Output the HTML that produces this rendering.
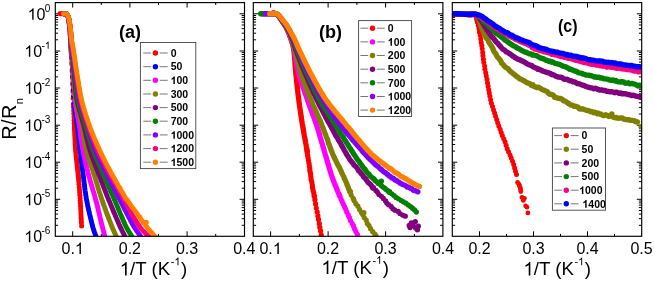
<!DOCTYPE html>
<html><head><meta charset="utf-8"><title>R/Rn vs 1/T</title>
<style>html,body{margin:0;padding:0;background:#fff;}svg{display:block;will-change:transform;}body{font-family:"Liberation Sans",sans-serif;}</style>
</head><body>
<svg width="654" height="281" viewBox="0 0 654 281" font-family="Liberation Sans, sans-serif">
<rect width="654" height="281" fill="#fff"/>
<defs>
<clipPath id="cpa"><rect x="55.3" y="2.6" width="189.2" height="233.7"/></clipPath>
<clipPath id="cpb"><rect x="253.3" y="2.6" width="189.6" height="233.7"/></clipPath>
<clipPath id="cpc"><rect x="452.3" y="2.6" width="189.4" height="233.7"/></clipPath>
</defs>
<path d="M72.7 2.6v5M72.7 236.3v-5M101.3 2.6v2.4M101.3 236.3v-2.4M129.9 2.6v5M129.9 236.3v-5M158.5 2.6v2.4M158.5 236.3v-2.4M187.1 2.6v5M187.1 236.3v-5M215.7 2.6v2.4M215.7 236.3v-2.4M55.3 13.8h4.9M244.5 13.8h-4.9M55.3 51h4.9M244.5 51h-4.9M55.3 39.8h2.8M244.5 39.8h-2.8M55.3 33.2h2.8M244.5 33.2h-2.8M55.3 28.6h2.8M244.5 28.6h-2.8M55.3 25h2.8M244.5 25h-2.8M55.3 22.1h2.8M244.5 22.1h-2.8M55.3 19.6h2.8M244.5 19.6h-2.8M55.3 17.4h2.8M244.5 17.4h-2.8M55.3 15.5h2.8M244.5 15.5h-2.8M55.3 88h4.9M244.5 88h-4.9M55.3 76.9h2.8M244.5 76.9h-2.8M55.3 70.3h2.8M244.5 70.3h-2.8M55.3 65.7h2.8M244.5 65.7h-2.8M55.3 62.1h2.8M244.5 62.1h-2.8M55.3 59.2h2.8M244.5 59.2h-2.8M55.3 56.7h2.8M244.5 56.7h-2.8M55.3 54.5h2.8M244.5 54.5h-2.8M55.3 52.6h2.8M244.5 52.6h-2.8M55.3 125.2h4.9M244.5 125.2h-4.9M55.3 114h2.8M244.5 114h-2.8M55.3 107.4h2.8M244.5 107.4h-2.8M55.3 102.8h2.8M244.5 102.8h-2.8M55.3 99.2h2.8M244.5 99.2h-2.8M55.3 96.3h2.8M244.5 96.3h-2.8M55.3 93.8h2.8M244.5 93.8h-2.8M55.3 91.6h2.8M244.5 91.6h-2.8M55.3 89.7h2.8M244.5 89.7h-2.8M55.3 162.2h4.9M244.5 162.2h-4.9M55.3 151.1h2.8M244.5 151.1h-2.8M55.3 144.5h2.8M244.5 144.5h-2.8M55.3 139.9h2.8M244.5 139.9h-2.8M55.3 136.3h2.8M244.5 136.3h-2.8M55.3 133.4h2.8M244.5 133.4h-2.8M55.3 130.9h2.8M244.5 130.9h-2.8M55.3 128.7h2.8M244.5 128.7h-2.8M55.3 126.8h2.8M244.5 126.8h-2.8M55.3 199.3h4.9M244.5 199.3h-4.9M55.3 188.2h2.8M244.5 188.2h-2.8M55.3 181.6h2.8M244.5 181.6h-2.8M55.3 177h2.8M244.5 177h-2.8M55.3 173.4h2.8M244.5 173.4h-2.8M55.3 170.5h2.8M244.5 170.5h-2.8M55.3 168h2.8M244.5 168h-2.8M55.3 165.8h2.8M244.5 165.8h-2.8M55.3 163.9h2.8M244.5 163.9h-2.8M55.3 225.3h2.8M244.5 225.3h-2.8M55.3 218.7h2.8M244.5 218.7h-2.8M55.3 214.1h2.8M244.5 214.1h-2.8M55.3 210.5h2.8M244.5 210.5h-2.8M55.3 207.6h2.8M244.5 207.6h-2.8M55.3 205.1h2.8M244.5 205.1h-2.8M55.3 202.9h2.8M244.5 202.9h-2.8M55.3 201h2.8M244.5 201h-2.8" stroke="#000" stroke-width="1" fill="none"/>
<text x="61.58" y="254.1" font-size="16">0.</text>
<path transform="translate(74.92,254.1) scale(0.00781,-0.00781)" d="M763 0H583V1147Q518 1085 412.5 1023Q307 961 223 930V1104Q374 1175 487 1276Q600 1377 647 1472H763Z"/>
<text x="118.78" y="254.1" font-size="16">0.2</text>
<text x="175.98" y="254.1" font-size="16">0.3</text>
<text x="233.18" y="254.1" font-size="16">0.4</text>
<path d="M270.6 2.6v5M270.6 236.3v-5M299.4 2.6v2.4M299.4 236.3v-2.4M328.1 2.6v5M328.1 236.3v-5M356.9 2.6v2.4M356.9 236.3v-2.4M385.6 2.6v5M385.6 236.3v-5M414.4 2.6v2.4M414.4 236.3v-2.4M253.3 13.8h4.9M442.9 13.8h-4.9M253.3 51h4.9M442.9 51h-4.9M253.3 39.8h2.8M442.9 39.8h-2.8M253.3 33.2h2.8M442.9 33.2h-2.8M253.3 28.6h2.8M442.9 28.6h-2.8M253.3 25h2.8M442.9 25h-2.8M253.3 22.1h2.8M442.9 22.1h-2.8M253.3 19.6h2.8M442.9 19.6h-2.8M253.3 17.4h2.8M442.9 17.4h-2.8M253.3 15.5h2.8M442.9 15.5h-2.8M253.3 88h4.9M442.9 88h-4.9M253.3 76.9h2.8M442.9 76.9h-2.8M253.3 70.3h2.8M442.9 70.3h-2.8M253.3 65.7h2.8M442.9 65.7h-2.8M253.3 62.1h2.8M442.9 62.1h-2.8M253.3 59.2h2.8M442.9 59.2h-2.8M253.3 56.7h2.8M442.9 56.7h-2.8M253.3 54.5h2.8M442.9 54.5h-2.8M253.3 52.6h2.8M442.9 52.6h-2.8M253.3 125.2h4.9M442.9 125.2h-4.9M253.3 114h2.8M442.9 114h-2.8M253.3 107.4h2.8M442.9 107.4h-2.8M253.3 102.8h2.8M442.9 102.8h-2.8M253.3 99.2h2.8M442.9 99.2h-2.8M253.3 96.3h2.8M442.9 96.3h-2.8M253.3 93.8h2.8M442.9 93.8h-2.8M253.3 91.6h2.8M442.9 91.6h-2.8M253.3 89.7h2.8M442.9 89.7h-2.8M253.3 162.2h4.9M442.9 162.2h-4.9M253.3 151.1h2.8M442.9 151.1h-2.8M253.3 144.5h2.8M442.9 144.5h-2.8M253.3 139.9h2.8M442.9 139.9h-2.8M253.3 136.3h2.8M442.9 136.3h-2.8M253.3 133.4h2.8M442.9 133.4h-2.8M253.3 130.9h2.8M442.9 130.9h-2.8M253.3 128.7h2.8M442.9 128.7h-2.8M253.3 126.8h2.8M442.9 126.8h-2.8M253.3 199.3h4.9M442.9 199.3h-4.9M253.3 188.2h2.8M442.9 188.2h-2.8M253.3 181.6h2.8M442.9 181.6h-2.8M253.3 177h2.8M442.9 177h-2.8M253.3 173.4h2.8M442.9 173.4h-2.8M253.3 170.5h2.8M442.9 170.5h-2.8M253.3 168h2.8M442.9 168h-2.8M253.3 165.8h2.8M442.9 165.8h-2.8M253.3 163.9h2.8M442.9 163.9h-2.8M253.3 225.3h2.8M442.9 225.3h-2.8M253.3 218.7h2.8M442.9 218.7h-2.8M253.3 214.1h2.8M442.9 214.1h-2.8M253.3 210.5h2.8M442.9 210.5h-2.8M253.3 207.6h2.8M442.9 207.6h-2.8M253.3 205.1h2.8M442.9 205.1h-2.8M253.3 202.9h2.8M442.9 202.9h-2.8M253.3 201h2.8M442.9 201h-2.8" stroke="#000" stroke-width="1" fill="none"/>
<text x="259.48" y="254.1" font-size="16">0.</text>
<path transform="translate(272.82,254.1) scale(0.00781,-0.00781)" d="M763 0H583V1147Q518 1085 412.5 1023Q307 961 223 930V1104Q374 1175 487 1276Q600 1377 647 1472H763Z"/>
<text x="316.98" y="254.1" font-size="16">0.2</text>
<text x="374.48" y="254.1" font-size="16">0.3</text>
<text x="431.98" y="254.1" font-size="16">0.4</text>
<path d="M479.5 2.6v5M479.5 236.3v-5M506.5 2.6v2.4M506.5 236.3v-2.4M533.5 2.6v5M533.5 236.3v-5M560.5 2.6v2.4M560.5 236.3v-2.4M587.5 2.6v5M587.5 236.3v-5M614.5 2.6v2.4M614.5 236.3v-2.4M452.3 13.8h4.9M641.7 13.8h-4.9M452.3 51h4.9M641.7 51h-4.9M452.3 39.8h2.8M641.7 39.8h-2.8M452.3 33.2h2.8M641.7 33.2h-2.8M452.3 28.6h2.8M641.7 28.6h-2.8M452.3 25h2.8M641.7 25h-2.8M452.3 22.1h2.8M641.7 22.1h-2.8M452.3 19.6h2.8M641.7 19.6h-2.8M452.3 17.4h2.8M641.7 17.4h-2.8M452.3 15.5h2.8M641.7 15.5h-2.8M452.3 88h4.9M641.7 88h-4.9M452.3 76.9h2.8M641.7 76.9h-2.8M452.3 70.3h2.8M641.7 70.3h-2.8M452.3 65.7h2.8M641.7 65.7h-2.8M452.3 62.1h2.8M641.7 62.1h-2.8M452.3 59.2h2.8M641.7 59.2h-2.8M452.3 56.7h2.8M641.7 56.7h-2.8M452.3 54.5h2.8M641.7 54.5h-2.8M452.3 52.6h2.8M641.7 52.6h-2.8M452.3 125.2h4.9M641.7 125.2h-4.9M452.3 114h2.8M641.7 114h-2.8M452.3 107.4h2.8M641.7 107.4h-2.8M452.3 102.8h2.8M641.7 102.8h-2.8M452.3 99.2h2.8M641.7 99.2h-2.8M452.3 96.3h2.8M641.7 96.3h-2.8M452.3 93.8h2.8M641.7 93.8h-2.8M452.3 91.6h2.8M641.7 91.6h-2.8M452.3 89.7h2.8M641.7 89.7h-2.8M452.3 162.2h4.9M641.7 162.2h-4.9M452.3 151.1h2.8M641.7 151.1h-2.8M452.3 144.5h2.8M641.7 144.5h-2.8M452.3 139.9h2.8M641.7 139.9h-2.8M452.3 136.3h2.8M641.7 136.3h-2.8M452.3 133.4h2.8M641.7 133.4h-2.8M452.3 130.9h2.8M641.7 130.9h-2.8M452.3 128.7h2.8M641.7 128.7h-2.8M452.3 126.8h2.8M641.7 126.8h-2.8M452.3 199.3h4.9M641.7 199.3h-4.9M452.3 188.2h2.8M641.7 188.2h-2.8M452.3 181.6h2.8M641.7 181.6h-2.8M452.3 177h2.8M641.7 177h-2.8M452.3 173.4h2.8M641.7 173.4h-2.8M452.3 170.5h2.8M641.7 170.5h-2.8M452.3 168h2.8M641.7 168h-2.8M452.3 165.8h2.8M641.7 165.8h-2.8M452.3 163.9h2.8M641.7 163.9h-2.8M452.3 225.3h2.8M641.7 225.3h-2.8M452.3 218.7h2.8M641.7 218.7h-2.8M452.3 214.1h2.8M641.7 214.1h-2.8M452.3 210.5h2.8M641.7 210.5h-2.8M452.3 207.6h2.8M641.7 207.6h-2.8M452.3 205.1h2.8M641.7 205.1h-2.8M452.3 202.9h2.8M641.7 202.9h-2.8M452.3 201h2.8M641.7 201h-2.8" stroke="#000" stroke-width="1" fill="none"/>
<text x="468.38" y="254.1" font-size="16">0.2</text>
<text x="522.38" y="254.1" font-size="16">0.3</text>
<text x="576.38" y="254.1" font-size="16">0.4</text>
<text x="630.38" y="254.1" font-size="16">0.5</text>
<g clip-path="url(#cpa)">
<polyline points="59.8,13.7 61.2,13.7 63,13.7 64.8,13.6 66.3,13.7 67.2,14.6 67.8,16 68.3,17.5 68.8,20 69,21.3 69.2,22.9 69.4,24.6 69.6,26.4 69.8,28.3 70,30 70.1,31.7 70.2,33.3 70.3,35 70.4,36.7 70.5,38.3 70.6,40 70.7,41.7 70.8,43.4 70.9,45.1 70.9,46.8 71,48.4 71.1,50 71.2,51.9 71.3,53.7 71.4,55.5 71.5,56.9 71.5,58" fill="none" stroke="#ff0000" stroke-width="4.9" stroke-linecap="round" stroke-linejoin="round"/>
<circle cx="71.9" cy="64.6" r="2.5" fill="#ff0000"/>
<circle cx="72.2" cy="71.4" r="2.5" fill="#ff0000"/>
<circle cx="72.5" cy="78" r="2.5" fill="#ff0000"/>
<circle cx="72.8" cy="84.8" r="2.5" fill="#ff0000"/>
<circle cx="73" cy="91.5" r="2.5" fill="#ff0000"/>
<circle cx="73.2" cy="98.2" r="2.5" fill="#ff0000"/>
<circle cx="73.5" cy="105" r="2.5" fill="#ff0000"/>
<circle cx="73.5" cy="104" r="2.5" fill="#ff0000"/>
<circle cx="73.6" cy="107.2" r="2.5" fill="#ff0000"/>
<circle cx="73.7" cy="110.5" r="2.5" fill="#ff0000"/>
<circle cx="73.8" cy="113.8" r="2.5" fill="#ff0000"/>
<circle cx="74" cy="117" r="2.5" fill="#ff0000"/>
<circle cx="74.1" cy="120.2" r="2.5" fill="#ff0000"/>
<circle cx="74.2" cy="123.5" r="2.5" fill="#ff0000"/>
<circle cx="74.4" cy="126.8" r="2.5" fill="#ff0000"/>
<polyline points="74.4,127 74.4,127.9 74.5,128.9 74.5,130.1 74.6,131.4 74.7,132.9 74.7,134.4 74.8,136.1 74.9,137.8 75,139.6 75.1,141.3 75.1,143.1 75.3,144.9 75.4,146.7 75.5,148.4 75.6,150 75.7,151.6 75.9,153.2 76,154.9 76.2,156.7 76.4,158.5 76.6,160.3 76.8,162.1 77,163.9 77.2,165.6 77.3,167.3 77.5,168.9 77.7,170.4 77.8,171.8 78,173 78.1,174.1 78.2,175 78.4,177.1 78.3,176" fill="none" stroke="#ff0000" stroke-width="4.9" stroke-linecap="round" stroke-linejoin="round"/>
<circle cx="78.3" cy="176" r="2.5" fill="#ff0000"/>
<circle cx="78.5" cy="178.8" r="2.5" fill="#ff0000"/>
<circle cx="78.8" cy="181.5" r="2.5" fill="#ff0000"/>
<circle cx="79" cy="184.2" r="2.5" fill="#ff0000"/>
<circle cx="79.2" cy="187" r="2.5" fill="#ff0000"/>
<circle cx="79.5" cy="189.8" r="2.5" fill="#ff0000"/>
<circle cx="79.7" cy="192.5" r="2.5" fill="#ff0000"/>
<circle cx="79.9" cy="195.2" r="2.5" fill="#ff0000"/>
<circle cx="80.1" cy="198" r="2.5" fill="#ff0000"/>
<circle cx="80.2" cy="200.8" r="2.5" fill="#ff0000"/>
<circle cx="80.4" cy="203.4" r="2.5" fill="#ff0000"/>
<circle cx="80.6" cy="206.2" r="2.5" fill="#ff0000"/>
<circle cx="80.7" cy="209.1" r="2.5" fill="#ff0000"/>
<circle cx="80.9" cy="211.9" r="2.5" fill="#ff0000"/>
<circle cx="81" cy="214.7" r="2.5" fill="#ff0000"/>
<circle cx="81.1" cy="217.4" r="2.5" fill="#ff0000"/>
<circle cx="81.3" cy="220.1" r="2.5" fill="#ff0000"/>
<circle cx="81.4" cy="222.8" r="2.5" fill="#ff0000"/>
<circle cx="81.6" cy="226" r="2.5" fill="#ff0000"/>
<polyline points="63.5,13.7 63.6,13.7 64,13.7 65.1,13.6 66.3,13.7 67.1,14.6 67.8,16 68.3,17.5 68.8,20 69,21.3 69.2,22.9 69.4,24.6 69.6,26.4 69.8,28.3 70,30 70.1,31.7 70.2,33.3 70.3,35 70.4,36.7 70.5,38.3 70.6,40 70.7,41.7 70.8,43.4 70.9,45.1 71,46.8 71.1,48.4 71.2,50 71.3,51.9 71.4,53.7 71.5,55.5 71.6,56.9 71.6,58" fill="none" stroke="#0000ff" stroke-width="4.9" stroke-linecap="round" stroke-linejoin="round"/>
<circle cx="71.9" cy="62.4" r="2.5" fill="#0000ff"/>
<circle cx="72.3" cy="69.2" r="2.5" fill="#0000ff"/>
<circle cx="72.6" cy="76" r="2.5" fill="#0000ff"/>
<circle cx="72.9" cy="82.8" r="2.5" fill="#0000ff"/>
<circle cx="73.2" cy="89.5" r="2.5" fill="#0000ff"/>
<circle cx="73.5" cy="96.2" r="2.5" fill="#0000ff"/>
<circle cx="74.1" cy="103" r="2.5" fill="#0000ff"/>
<polyline points="74.5,105 74.6,105.9 74.7,106.9 74.9,108.1 75.1,109.5 75.3,111 75.5,112.6 75.8,114.3 76,116 76.3,117.8 76.5,119.6 76.7,121.4 77,123.2 77.2,125 77.4,126.4 77.6,127.9 77.7,129.4 77.9,130.9 78.1,132.4 78.3,134 78.4,135.6 78.6,137.2 78.8,138.8 79,140.4 79.2,142 79.4,143.6 79.5,145.2 79.7,146.8 79.9,148.4 80.1,150 80.3,151.6 80.5,153.1 80.7,154.7 80.9,156.2 81,157.8 81.2,159.4 81.4,160.9 81.6,162.5 81.8,164.1 82,165.6 82.2,167.2 82.4,168.8 82.6,170.3 82.8,171.9 83,173.4 83.2,175 83.4,176.6 83.6,178.1 83.8,179.7 84,181.2 84.2,182.8 84.4,184.4 84.5,185.9 84.7,187.5 84.9,189.1 85.1,190.6 85.4,192.2 85.6,193.8 85.8,195.3 86.1,196.9 86.3,198.4 86.6,200 86.9,201.5 87.2,203 87.5,204.6 87.8,206.2 88.2,207.8 88.5,209.4 88.9,211 89.3,212.6 89.6,214.1 90,215.7 90.4,217.2 90.7,218.7 91.1,220.1 91.4,221.4 91.7,222.7 92,223.9 92.3,225 92.9,227.4 93.5,229.4 94.1,231.1 94.6,232.6 95.1,233.9 95.5,235.1 95.9,236.3 96.5,238.3 97.1,239.9 97.5,241.1 97.8,242" fill="none" stroke="#0000ff" stroke-width="4.9" stroke-linecap="round" stroke-linejoin="round"/>
<polyline points="63.5,13.7 63.6,13.7 64,13.7 65.1,13.6 66.3,13.7 67.1,14.6 67.8,16 68.3,17.5 68.8,20 69,21.3 69.2,22.9 69.5,24.6 69.7,26.4 69.9,28.3 70.1,30 70.2,31.7 70.3,33.3 70.4,35 70.5,36.7 70.6,38.3 70.7,40 70.8,41.7 70.9,43.4 71.1,45.1 71.2,46.8 71.3,48.4 71.4,50 71.5,51.9 71.6,53.7 71.7,55.5 71.8,56.9 71.9,58" fill="none" stroke="#ff00ff" stroke-width="4.9" stroke-linecap="round" stroke-linejoin="round"/>
<circle cx="72" cy="60.2" r="2.5" fill="#ff00ff"/>
<circle cx="72.4" cy="67" r="2.5" fill="#ff00ff"/>
<circle cx="72.8" cy="73.7" r="2.5" fill="#ff00ff"/>
<circle cx="73.2" cy="80.5" r="2.5" fill="#ff00ff"/>
<circle cx="73.5" cy="87.2" r="2.5" fill="#ff00ff"/>
<circle cx="74" cy="94" r="2.5" fill="#ff00ff"/>
<circle cx="74.7" cy="100.7" r="2.5" fill="#ff00ff"/>
<polyline points="75.5,105 75.7,105.9 75.9,106.9 76.1,108.1 76.4,109.5 76.7,111 77,112.6 77.3,114.3 77.6,116 77.9,117.8 78.3,119.6 78.6,121.4 78.9,123.2 79.2,125 79.4,126.4 79.6,127.9 79.9,129.4 80.1,130.9 80.3,132.4 80.5,134 80.7,135.6 80.9,137.2 81.1,138.8 81.4,140.4 81.6,142 81.8,143.6 82.1,145.2 82.3,146.8 82.6,148.4 82.9,150 83.2,151.5 83.5,152.9 83.8,154.4 84.1,155.9 84.4,157.4 84.7,158.8 85,160.3 85.4,161.8 85.7,163.2 86,164.7 86.4,166.2 86.8,167.6 87.1,169.1 87.5,170.6 87.8,172.1 88.2,173.5 88.6,175 89,176.5 89.4,177.9 89.8,179.4 90.2,180.9 90.6,182.4 91.1,183.8 91.5,185.3 92,186.8 92.4,188.2 92.8,189.7 93.3,191.2 93.7,192.6 94.1,194.1 94.6,195.6 95,197.1 95.4,198.5 95.8,200 96.2,201.5 96.6,203 97,204.6 97.4,206.2 97.8,207.8 98.2,209.4 98.5,211 98.9,212.6 99.3,214.1 99.7,215.7 100,217.2 100.4,218.7 100.7,220.1 101,221.4 101.3,222.7 101.6,223.9 101.9,225 102.5,227.4 103,229.4 103.5,231.1 103.9,232.6 104.2,233.9 104.6,235.1 104.9,236.3 105.6,238.8 106.1,240.7 106.5,242" fill="none" stroke="#ff00ff" stroke-width="4.9" stroke-linecap="round" stroke-linejoin="round"/>
<polyline points="63.5,13.7 63.6,13.7 64,13.7 65.1,13.6 66.4,13.7 67.2,14.6 67.9,16 68.4,17.5 68.9,20 69.1,21.3 69.3,22.9 69.6,24.6 69.8,26.4 70,28.3 70.2,30 70.4,31.7 70.5,33.3 70.6,35 70.7,36.7 70.8,38.3 70.9,40 71,41.5 71.1,42.8 71.2,44.1 71.3,45.6 71.5,47.5 71.7,50 71.8,51.2 71.9,52.4 72,53.8 72.1,55.2 72.2,56.7 72.3,58.3 72.4,59.9 72.6,61.6 72.7,63.3 72.8,65 72.9,66.7 73.1,68.4 73.2,70.1 73.3,71.8 73.5,73.4 73.6,75 73.7,76.6 73.8,78.1 74,79.7 74.1,81.2 74.2,82.8 74.3,84.4 74.4,85.9 74.5,87.5 74.6,89.1 74.7,90.6 74.9,92.2 75.1,93.8 75.2,95.3 75.4,96.9 75.7,98.4 75.9,100 76.2,101.5 76.4,102.9 76.8,104.4 77.1,105.9 77.4,107.4 77.8,108.8 78.2,110.3 78.6,111.8 79,113.2 79.4,114.7 79.8,116.2 80.1,117.6 80.5,119.1 80.9,120.6 81.2,122.1 81.6,123.5 81.9,125 82.2,126.6 82.5,128.1 82.8,129.7 83,131.2 83.3,132.8 83.5,134.4 83.7,135.9 84,137.5 84.2,139.1 84.5,140.6 84.7,142.2 85,143.8 85.3,145.3 85.6,146.9 85.9,148.4 86.3,150 86.7,151.5 87.1,152.9 87.5,154.4 87.9,155.9 88.4,157.4 88.8,158.8 89.3,160.3 89.8,161.8 90.3,163.2 90.8,164.7 91.3,166.2 91.8,167.6 92.3,169.1 92.8,170.6 93.3,172.1 93.7,173.5 94.2,175 94.7,176.5 95.1,177.9 95.6,179.4 96,180.9 96.5,182.4 96.9,183.8 97.3,185.3 97.8,186.8 98.2,188.2 98.7,189.7 99.1,191.2 99.6,192.6 100.1,194.1 100.5,195.6 101,197.1 101.5,198.5 102,200 102.5,201.5 103.1,203 103.6,204.6 104.2,206.2 104.8,207.8 105.3,209.4 105.9,211 106.5,212.6 107.1,214.1 107.7,215.7 108.3,217.2 108.8,218.7 109.4,220.1 109.9,221.4 110.4,222.7 110.9,223.9 111.3,225 112.1,227.1 112.9,228.9 113.6,230.5 114.2,231.9 114.7,233.1 115.2,234.2 115.7,235.2 116.2,236.3 117.1,238.3 117.8,239.9 118.4,241.1 118.8,242" fill="none" stroke="#808000" stroke-width="4.9" stroke-linecap="round" stroke-linejoin="round"/>
<polyline points="63.5,13.7 63.6,13.7 64,13.7 65.1,13.6 66.4,13.7 67.2,14.6 67.9,16 68.4,17.5 68.9,20 69.1,21.3 69.4,22.9 69.6,24.6 69.9,26.4 70.1,28.3 70.3,30 70.5,31.7 70.6,33.3 70.7,35 70.8,36.7 70.9,38.3 71,40 71.1,41.5 71.3,42.8 71.4,44.1 71.6,45.6 71.8,47.5 72,50 72.1,51.2 72.2,52.4 72.3,53.8 72.5,55.2 72.6,56.7 72.7,58.3 72.9,59.9 73,61.6 73.2,63.3 73.4,65 73.5,66.7 73.7,68.4 73.8,70.1 74,71.8 74.1,73.4 74.3,75 74.5,76.6 74.6,78.1 74.7,79.7 74.9,81.2 75,82.8 75.1,84.4 75.2,85.9 75.4,87.5 75.5,89.1 75.7,90.6 75.8,92.2 76,93.8 76.2,95.3 76.5,96.9 76.7,98.4 77,100 77.3,101.5 77.6,102.9 77.9,104.4 78.3,105.9 78.7,107.4 79.1,108.8 79.5,110.3 79.9,111.8 80.3,113.2 80.8,114.7 81.2,116.2 81.6,117.6 82.1,119.1 82.5,120.6 82.9,122.1 83.3,123.5 83.7,125 84.1,126.5 84.4,127.9 84.8,129.4 85.1,130.9 85.5,132.4 85.8,133.8 86.1,135.3 86.5,136.8 86.8,138.2 87.2,139.7 87.5,141.2 87.9,142.6 88.2,144.1 88.6,145.6 89,147.1 89.5,148.5 89.9,150 90.4,151.5 90.8,152.9 91.3,154.4 91.8,155.9 92.4,157.4 92.9,158.8 93.4,160.3 94,161.8 94.6,163.2 95.1,164.7 95.7,166.2 96.3,167.6 96.8,169.1 97.4,170.6 98,172.1 98.5,173.5 99.1,175 99.7,176.5 100.2,177.9 100.8,179.4 101.3,180.9 101.9,182.4 102.5,183.8 103,185.3 103.6,186.8 104.1,188.2 104.7,189.7 105.3,191.2 105.9,192.6 106.4,194.1 107,195.6 107.6,197.1 108.2,198.5 108.8,200 109.4,201.4 110,202.9 110.6,204.3 111.2,205.8 111.8,207.3 112.5,208.8 113.1,210.4 113.7,211.9 114.4,213.4 115,214.8 115.6,216.3 116.2,217.7 116.8,219 117.4,220.4 117.9,221.6 118.4,222.8 118.9,224 119.4,225 120.3,227.1 121.2,228.9 122,230.5 122.6,231.9 123.3,233.1 123.8,234.2 124.4,235.2 124.9,236.3 125.9,238.3 126.6,239.9 127.3,241.1 127.7,242" fill="none" stroke="#800080" stroke-width="4.9" stroke-linecap="round" stroke-linejoin="round"/>
<polyline points="63.5,13.7 63.6,13.7 64,13.7 65.2,13.6 66.5,13.7 67.3,14.6 68,16 68.5,17.5 69,20 69.2,21.3 69.5,22.9 69.7,24.6 70,26.4 70.2,28.3 70.4,30 70.6,31.7 70.7,33.3 70.8,35 70.9,36.7 71,38.3 71.1,40 71.3,41.5 71.4,42.8 71.6,44.1 71.8,45.6 72,47.5 72.3,50 72.4,51.2 72.6,52.4 72.7,53.8 72.9,55.2 73,56.7 73.2,58.3 73.4,59.9 73.5,61.6 73.7,63.3 73.9,65 74.1,66.7 74.3,68.4 74.5,70.1 74.6,71.8 74.8,73.4 75,75 75.2,76.6 75.3,78.1 75.5,79.7 75.6,81.2 75.8,82.8 75.9,84.4 76.1,85.9 76.2,87.5 76.4,89.1 76.5,90.6 76.7,92.2 76.9,93.8 77.2,95.3 77.4,96.9 77.7,98.4 78,100 78.3,101.5 78.7,102.9 79,104.4 79.4,105.9 79.8,107.4 80.3,108.8 80.7,110.3 81.2,111.8 81.6,113.2 82.1,114.7 82.6,116.2 83.1,117.6 83.6,119.1 84,120.6 84.5,122.1 85,123.5 85.4,125 85.8,126.5 86.3,127.9 86.7,129.4 87.1,130.9 87.5,132.4 87.9,133.8 88.4,135.3 88.8,136.8 89.2,138.2 89.6,139.7 90.1,141.2 90.5,142.6 91,144.1 91.5,145.6 92,147.1 92.5,148.5 93,150 93.5,151.4 94,152.8 94.6,154.2 95.1,155.6 95.7,156.9 96.3,158.3 96.9,159.7 97.5,161.1 98.1,162.5 98.7,163.9 99.3,165.3 99.9,166.7 100.5,168.1 101.2,169.4 101.8,170.8 102.4,172.2 103,173.6 103.6,175 104.2,176.4 104.8,177.8 105.4,179.2 106,180.6 106.6,181.9 107.2,183.3 107.9,184.7 108.5,186.1 109.1,187.5 109.7,188.9 110.3,190.3 110.9,191.7 111.6,193.1 112.2,194.4 112.8,195.8 113.4,197.2 114,198.6 114.6,200 115.2,201.4 115.8,202.9 116.4,204.3 117.1,205.8 117.7,207.3 118.3,208.8 119,210.4 119.6,211.9 120.2,213.4 120.8,214.8 121.5,216.3 122.1,217.7 122.6,219 123.2,220.4 123.8,221.6 124.3,222.8 124.8,224 125.3,225 126.3,227.1 127.3,228.9 128.2,230.5 129,231.9 129.8,233.1 130.5,234.2 131.2,235.2 131.8,236.3 132.9,238.3 133.9,239.9 134.7,241.1 135.2,242" fill="none" stroke="#008000" stroke-width="4.9" stroke-linecap="round" stroke-linejoin="round"/>
<polyline points="63.5,13.7 63.6,13.7 64,13.7 65.2,13.6 66.5,13.7 67.3,14.6 68,16 68.5,17.5 69,20 69.2,21.3 69.5,22.9 69.8,24.6 70,26.4 70.3,28.3 70.5,30 70.7,31.7 70.8,33.3 70.9,35 70.9,36.7 71.1,38.3 71.2,40 71.4,41.5 71.5,42.8 71.7,44.1 72,45.6 72.3,47.5 72.6,50 72.7,51.2 72.9,52.4 73.1,53.8 73.3,55.2 73.5,56.7 73.6,58.3 73.8,59.9 74.1,61.6 74.3,63.3 74.5,65 74.7,66.7 74.9,68.4 75.1,70.1 75.4,71.8 75.6,73.4 75.8,75 76,76.6 76.2,78.1 76.4,79.7 76.6,81.2 76.8,82.8 77,84.4 77.2,85.9 77.4,87.5 77.6,89.1 77.8,90.6 78,92.2 78.3,93.8 78.6,95.3 78.8,96.9 79.2,98.4 79.5,100 79.8,101.5 80.2,102.9 80.6,104.4 81,105.9 81.5,107.4 81.9,108.8 82.4,110.3 82.8,111.8 83.3,113.2 83.8,114.7 84.3,116.2 84.8,117.6 85.3,119.1 85.8,120.6 86.3,122.1 86.7,123.5 87.2,125 87.7,126.5 88.1,127.9 88.5,129.4 89,130.9 89.4,132.4 89.8,133.8 90.3,135.3 90.7,136.8 91.2,138.2 91.6,139.7 92.1,141.2 92.5,142.6 93,144.1 93.5,145.6 94.1,147.1 94.6,148.5 95.2,150 95.8,151.4 96.4,152.8 97,154.2 97.6,155.6 98.2,156.9 98.9,158.3 99.5,159.7 100.2,161.1 100.9,162.5 101.6,163.9 102.3,165.3 103,166.7 103.7,168.1 104.4,169.4 105.1,170.8 105.8,172.2 106.5,173.6 107.2,175 107.9,176.4 108.6,177.8 109.3,179.2 110,180.6 110.7,181.9 111.4,183.3 112.1,184.7 112.8,186.1 113.5,187.5 114.3,188.9 115,190.3 115.7,191.7 116.4,193.1 117.1,194.4 117.8,195.8 118.6,197.2 119.3,198.6 120,200 120.7,201.4 121.5,202.9 122.2,204.3 123,205.8 123.7,207.3 124.5,208.8 125.3,210.4 126.1,211.9 126.8,213.4 127.6,214.8 128.3,216.3 129.1,217.7 129.8,219 130.5,220.4 131.1,221.6 131.8,222.8 132.4,224 133,225 134.1,226.9 135.1,228.5 136.1,230 137,231.3 137.8,232.4 138.6,233.5 139.3,234.4 140,235.4 140.7,236.3 142.1,238.3 143.2,239.9 144.1,241.1 144.8,242" fill="none" stroke="#8000ff" stroke-width="4.9" stroke-linecap="round" stroke-linejoin="round"/>
<polyline points="63.5,13.7 63.6,13.7 64,13.7 65.2,13.6 66.5,13.7 67.3,14.6 68,16 68.6,17.5 69.1,20 69.3,21.3 69.6,22.9 69.8,24.6 70.1,26.4 70.3,28.3 70.5,30 70.7,31.7 70.8,33.3 70.9,35 71.1,36.7 71.2,38.3 71.4,40 71.6,41.5 71.8,42.8 72,44.1 72.3,45.6 72.6,47.5 73,50 73.2,51.2 73.3,52.4 73.5,53.8 73.7,55.2 73.9,56.7 74.1,58.3 74.4,59.9 74.6,61.6 74.8,63.3 75.1,65 75.3,66.7 75.5,68.4 75.8,70.1 76,71.8 76.3,73.4 76.5,75 76.7,76.6 77,78.1 77.2,79.7 77.4,81.2 77.6,82.8 77.8,84.4 78.1,85.9 78.3,87.5 78.5,89.1 78.8,90.6 79.1,92.2 79.3,93.8 79.6,95.3 79.9,96.9 80.3,98.4 80.6,100 80.9,101.5 81.3,102.9 81.7,104.4 82.1,105.9 82.5,107.4 82.9,108.8 83.3,110.3 83.7,111.8 84.2,113.2 84.6,114.7 85.1,116.2 85.6,117.6 86,119.1 86.5,120.6 87,122.1 87.5,123.5 88,125 88.5,126.5 89,127.9 89.5,129.4 90,130.9 90.6,132.4 91.1,133.8 91.6,135.3 92.2,136.8 92.7,138.2 93.3,139.7 93.9,141.2 94.5,142.6 95.1,144.1 95.7,145.6 96.3,147.1 96.9,148.5 97.6,150 98.2,151.4 98.9,152.8 99.6,154.2 100.2,155.6 100.9,156.9 101.6,158.3 102.4,159.7 103.1,161.1 103.8,162.5 104.6,163.9 105.3,165.3 106.1,166.7 106.8,168.1 107.6,169.4 108.3,170.8 109.1,172.2 109.8,173.6 110.6,175 111.3,176.3 112,177.6 112.8,178.9 113.5,180.3 114.2,181.6 115,182.9 115.7,184.2 116.4,185.5 117.2,186.8 117.9,188.2 118.7,189.5 119.4,190.8 120.2,192.1 120.9,193.4 121.6,194.7 122.4,196.1 123.1,197.4 123.9,198.7 124.6,200 125.3,201.3 126.1,202.7 126.8,204.1 127.6,205.5 128.4,206.9 129.1,208.4 129.9,209.8 130.7,211.2 131.4,212.7 132.2,214.1 132.9,215.4 133.7,216.8 134.4,218.1 135.1,219.4 135.8,220.6 136.5,221.8 137.2,222.9 137.9,224 138.5,225 139.7,226.7 140.8,228.2 141.9,229.6 143,230.8 144,231.9 145,232.8 146,233.8 146.9,234.6 147.7,235.5 148.5,236.3 149.9,237.9 151.2,239.3 152.3,240.4 153.2,241.3 153.8,242" fill="none" stroke="#ff0080" stroke-width="4.9" stroke-linecap="round" stroke-linejoin="round"/>
<polyline points="63.5,13.7 63.9,13.7 64.5,13.7 65.5,13.6 66.6,13.7 67.4,14.6 68.1,16 68.7,17.5 69.2,20 69.4,21.3 69.7,22.9 69.9,24.6 70.2,26.4 70.4,28.3 70.6,30 70.8,31.7 70.9,33.3 71.1,35 71.2,36.7 71.4,38.3 71.6,40 71.8,41.5 72.1,42.8 72.3,44.1 72.6,45.6 73,47.5 73.4,50 73.6,51.2 73.8,52.4 74,53.8 74.2,55.2 74.4,56.7 74.7,58.3 74.9,59.9 75.1,61.6 75.4,63.3 75.6,65 75.9,66.7 76.2,68.4 76.4,70.1 76.7,71.8 76.9,73.4 77.2,75 77.5,76.6 77.7,78.1 77.9,79.7 78.2,81.2 78.4,82.8 78.7,84.4 78.9,85.9 79.2,87.5 79.4,89.1 79.7,90.6 80,92.2 80.3,93.8 80.6,95.3 80.9,96.9 81.2,98.4 81.6,100 82,101.5 82.3,102.9 82.7,104.4 83.1,105.9 83.5,107.4 83.9,108.8 84.4,110.3 84.8,111.8 85.3,113.2 85.7,114.7 86.2,116.2 86.7,117.6 87.2,119.1 87.7,120.6 88.2,122.1 88.7,123.5 89.2,125 89.7,126.4 90.2,127.8 90.7,129.2 91.3,130.6 91.8,131.9 92.3,133.3 92.9,134.7 93.5,136.1 94,137.5 94.6,138.9 95.2,140.3 95.8,141.7 96.4,143.1 97,144.4 97.6,145.8 98.2,147.2 98.9,148.6 99.5,150 100.1,151.4 100.8,152.8 101.5,154.2 102.1,155.6 102.8,156.9 103.5,158.3 104.2,159.7 104.9,161.1 105.6,162.5 106.3,163.9 107.1,165.3 107.8,166.7 108.5,168.1 109.3,169.4 110,170.8 110.8,172.2 111.5,173.6 112.3,175 113,176.3 113.8,177.6 114.5,178.9 115.2,180.3 116,181.6 116.7,182.9 117.5,184.2 118.1,185.2 119,187.2 120,188 120.4,189.8 121.4,190.9 121.9,191.8 123.1,193.4 123.6,195.1 124.7,196.3 125.2,197.7 126.1,199 127.2,199.9 128.1,201.6 128.8,202.3 129.8,203.7 130.5,204.9 131.5,206.3 132.6,207.8 133.8,209.1 134.7,210.4 135.6,211.6 136.5,213 137.7,214.7 138.4,216 139.8,216.9 140.6,218.5 141.4,220 142.2,220.9 143.2,222.4 143.8,223.3 144.8,224.2 145.3,224.9 146.6,226.6 147.9,228.7 149.3,229.7 150.2,231.5 151.7,232.6 152.3,233.2 153.2,234.4 154,235.3 154.9,236.7 156.7,237.9 157.6,239.6 158.8,240.3 159.5,241.2 160.5,242" fill="none" stroke="#ff8000" stroke-width="4.9" stroke-linecap="round" stroke-linejoin="round"/>
<circle cx="146.3" cy="222.2" r="2.5" fill="#ff8000"/>
</g>
<g clip-path="url(#cpb)">
<polyline points="262,13.7 263,13.7 264.5,13.7 266.2,13.7 268,13.7 269.6,13.7 271.3,13.6 273.1,13.5 274.7,13.5 276,13.7 277.9,14.9 279,16.5 280.1,18.1 281.3,20 282.3,21.6 283.5,23.3 284.6,25 285.5,26.5 286.4,28 287.4,30 287.9,31.2 288.4,32.5 289,33.9 289.6,35.5 290.2,37 290.7,38.5 291.2,40 291.7,41.5 292.2,42.8 292.6,44.1 293,45.6 293.4,47.5 293.8,50 293.9,51.2 294.1,52.4 294.2,53.8 294.4,55.2 294.5,56.7 294.6,58.3 294.8,59.9 294.9,61.6 295,63.3 295.1,65 295.3,66.7 295.4,68.4 295.6,70.1 295.7,71.8 295.8,73.4 296,75 296.2,76.6 296.3,78.1 296.5,79.7 296.6,81.2 296.8,82.8 297,84.4 297.1,85.9 297.3,87.5 297.5,89.1 297.7,90.6 297.8,92.2 298,93.8 298.2,95.3 298.4,96.9 298.6,98.4 298.8,100 299,101.6 299.2,103.1 299.4,104.7 299.6,106.2 299.9,107.8 300.1,109.4 300.3,110.9 300.5,112.5 300.8,114.1 301,115.6 301.3,117.2 301.5,118.8 301.7,120.3 302,121.9 302.2,123.4 302.5,125 302.8,126.6 303.1,128.3 303.4,130 303.7,131.8 304,133.7 304.3,135.5 304.7,137.3 305,139.1 305.3,140.8 305.6,142.5 305.9,144 306.2,145.5 306.4,146.9 306.6,148.1 306.8,149.1 307,150 307.3,151.6 307,150" fill="none" stroke="#ff0000" stroke-width="5.3" stroke-linecap="round" stroke-linejoin="round"/>
<circle cx="306.9" cy="150" r="2.6" fill="#ff0000"/>
<circle cx="307.2" cy="152.7" r="2.6" fill="#ff0000"/>
<circle cx="307.7" cy="155.3" r="2.6" fill="#ff0000"/>
<circle cx="308" cy="157.8" r="2.6" fill="#ff0000"/>
<circle cx="308.5" cy="160.5" r="2.6" fill="#ff0000"/>
<circle cx="309" cy="163.3" r="2.6" fill="#ff0000"/>
<circle cx="309.4" cy="166.1" r="2.6" fill="#ff0000"/>
<circle cx="309.8" cy="168.9" r="2.6" fill="#ff0000"/>
<circle cx="310" cy="171.3" r="2.6" fill="#ff0000"/>
<circle cx="310.6" cy="173.8" r="2.6" fill="#ff0000"/>
<circle cx="310.9" cy="176.7" r="2.6" fill="#ff0000"/>
<circle cx="311.1" cy="179.6" r="2.6" fill="#ff0000"/>
<circle cx="311.9" cy="182.2" r="2.6" fill="#ff0000"/>
<circle cx="312.3" cy="185" r="2.6" fill="#ff0000"/>
<circle cx="312.5" cy="187.6" r="2.6" fill="#ff0000"/>
<circle cx="313.1" cy="190.4" r="2.6" fill="#ff0000"/>
<circle cx="313.8" cy="193.1" r="2.6" fill="#ff0000"/>
<circle cx="314.2" cy="195.8" r="2.6" fill="#ff0000"/>
<circle cx="314.4" cy="196.3" r="2.6" fill="#ff0000"/>
<circle cx="314.9" cy="199.7" r="2.6" fill="#ff0000"/>
<circle cx="315.6" cy="203.9" r="2.6" fill="#ff0000"/>
<circle cx="316.3" cy="208.1" r="2.6" fill="#ff0000"/>
<circle cx="317.2" cy="212" r="2.6" fill="#ff0000"/>
<circle cx="317.9" cy="215.9" r="2.6" fill="#ff0000"/>
<circle cx="318.5" cy="219.4" r="2.6" fill="#ff0000"/>
<circle cx="319.3" cy="223.7" r="2.6" fill="#ff0000"/>
<circle cx="319.8" cy="227.3" r="2.6" fill="#ff0000"/>
<circle cx="320.6" cy="230.9" r="2.6" fill="#ff0000"/>
<circle cx="321.3" cy="235" r="2.6" fill="#ff0000"/>
<circle cx="321.5" cy="238.8" r="2.6" fill="#ff0000"/>
<polyline points="262,13.7 263,13.7 264.5,13.7 266.2,13.7 268,13.7 269.6,13.7 271.3,13.6 273.1,13.5 274.7,13.5 276,13.7 277.8,14.9 279,16.5 280.2,18.1 281.4,20 282.2,21.1 283.1,22.4 284,23.7 284.8,25 285.7,26.5 286.6,28 287.6,30 288.1,31.2 288.7,32.5 289.3,33.9 289.9,35.5 290.4,37 291,38.5 291.5,40 292,41.5 292.4,42.8 292.8,44.1 293.2,45.6 293.6,47.5 294.2,50 294.4,51.2 294.7,52.4 294.9,53.8 295.2,55.2 295.5,56.7 295.8,58.3 296.1,59.9 296.4,61.6 296.7,63.3 297,65 297.3,66.7 297.7,68.4 298,70.1 298.4,71.8 298.8,73.4 299.2,75 299.6,76.5 300,77.9 300.5,79.4 300.9,80.9 301.4,82.4 301.9,83.8 302.3,85.3 302.8,86.8 303.4,88.2 303.9,89.7 304.4,91.2 304.9,92.6 305.4,94.1 306,95.6 306.5,97.1 307,98.5 307.5,100 308,101.5 308.5,102.9 309.1,104.4 309.6,105.9 310.1,107.4 310.7,108.8 311.2,110.3 311.8,111.8 312.3,113.2 312.9,114.7 313.4,116.2 313.9,117.6 314.5,119.1 315,120.6 315.5,122.1 316,123.5 316.5,125 317,126.5 317.5,127.9 317.9,129.4 318.4,130.9 318.8,132.4 319.3,133.8 319.7,135.3 320.1,136.8 320.6,138.2 321,139.7 321.4,141.2 321.8,142.6 322.3,144.1 322.7,145.6 323.1,147.1 323.6,148.5 324,150 324.4,151.5 324.9,153 325.3,154.5 325.8,156.1 326.2,157.7 326.7,159.2 327.1,160.8 327.6,162.4 328,163.9 328.5,165.4 328.9,166.9 329.3,168.4 329.8,169.8 330.2,171.2 330.6,172.5 331,173.8 331.4,175 332.1,176.9 332.7,178.8 333.4,180.5 334,182.2 334.6,183.7 335.2,185.1 335.8,186.5 336.3,187.7 336.8,188.9 337.2,190 338.1,192.3 338.8,193.9 339.3,195.1 339.7,196" fill="none" stroke="#ff00ff" stroke-width="5.3" stroke-linecap="round" stroke-linejoin="round"/>
<circle cx="339.8" cy="195.9" r="2.6" fill="#ff00ff"/>
<circle cx="341" cy="199" r="2.6" fill="#ff00ff"/>
<circle cx="342.1" cy="201.4" r="2.6" fill="#ff00ff"/>
<circle cx="343.3" cy="204.2" r="2.6" fill="#ff00ff"/>
<circle cx="344.6" cy="206.9" r="2.6" fill="#ff00ff"/>
<circle cx="345.8" cy="209.3" r="2.6" fill="#ff00ff"/>
<circle cx="346.7" cy="212.1" r="2.6" fill="#ff00ff"/>
<circle cx="348.2" cy="214.9" r="2.6" fill="#ff00ff"/>
<circle cx="349.4" cy="217.6" r="2.6" fill="#ff00ff"/>
<circle cx="350.5" cy="220.5" r="2.6" fill="#ff00ff"/>
<circle cx="352.2" cy="223.5" r="2.6" fill="#ff00ff"/>
<circle cx="353.5" cy="225.9" r="2.6" fill="#ff00ff"/>
<circle cx="354.6" cy="228.8" r="2.6" fill="#ff00ff"/>
<circle cx="355.8" cy="231.4" r="2.6" fill="#ff00ff"/>
<circle cx="357.3" cy="234.3" r="2.6" fill="#ff00ff"/>
<circle cx="358.6" cy="237.6" r="2.6" fill="#ff00ff"/>
<circle cx="359.4" cy="240.1" r="2.6" fill="#ff00ff"/>
<polyline points="262,13.7 263,13.7 264.5,13.7 266.2,13.7 268,13.7 269.6,13.7 271.3,13.6 273.1,13.5 274.7,13.5 276,13.7 277.9,14.9 279.1,16.5 280.3,18.1 281.5,20 282.3,21.1 283.2,22.4 284.1,23.7 285,25 286,26.5 286.9,28 287.9,30 288.4,31.2 289,32.5 289.6,33.9 290.3,35.5 290.9,37 291.5,38.5 292,40 292.5,41.5 292.9,42.8 293.2,44.1 293.6,45.6 294.1,47.5 294.8,50 295.1,51.1 295.4,52.3 295.7,53.5 296,54.9 296.4,56.3 296.8,57.7 297.1,59.2 297.5,60.8 297.9,62.4 298.3,64 298.8,65.6 299.2,67.2 299.6,68.8 300.1,70.4 300.6,72 301,73.5 301.5,75 302,76.5 302.5,77.9 303,79.4 303.5,80.9 304,82.4 304.6,83.8 305.1,85.3 305.7,86.8 306.3,88.2 306.9,89.7 307.4,91.2 308,92.6 308.6,94.1 309.2,95.6 309.8,97.1 310.4,98.5 311,100 311.6,101.4 312.2,102.8 312.7,104.2 313.3,105.6 313.9,106.9 314.6,108.3 315.2,109.7 315.8,111.1 316.4,112.5 317,113.9 317.6,115.3 318.3,116.7 318.9,118.1 319.5,119.4 320.2,120.8 320.6,122.1 321.4,123.7 321.7,124.8 322.4,126.6 323,127.9 323.7,129.8 324.1,131 324.8,132.8 325.5,134.3 326.1,136.1 326.6,137.5 327.3,139.1 327.9,140.7 328.2,142.4 328.8,143.9 329.4,145 329.8,146.5 330.4,147.9 330.7,148.9 331.1,150.2 332,152 332.6,153.9 333.4,155.4 333.8,156.6 334.4,157.4 334.7,158.8 335.5,159.8 336.1,161.3 336.7,162.6 337.4,163.9 338.1,165.4 339,166.8 339.8,168.2 340.3,169.8 341.1,171 341.6,172.5 342.4,174.1 343,175.4 343.8,176.6 344.3,178.4 345,179.4 345.4,180.8 346.3,182.5 347,184.5 347.5,185.9 348.3,187.6 348.7,189 349.1,189.9 349.7,191.7 350.2,192.1" fill="none" stroke="#808000" stroke-width="5.3" stroke-linecap="round" stroke-linejoin="round"/>
<circle cx="350.5" cy="191.7" r="2.6" fill="#808000"/>
<circle cx="351.2" cy="195.1" r="2.6" fill="#808000"/>
<circle cx="353.2" cy="198.4" r="2.6" fill="#808000"/>
<circle cx="354.1" cy="200.6" r="2.6" fill="#808000"/>
<circle cx="355.8" cy="203.7" r="2.6" fill="#808000"/>
<circle cx="357.9" cy="206.2" r="2.6" fill="#808000"/>
<circle cx="359.5" cy="209.4" r="2.6" fill="#808000"/>
<circle cx="361.3" cy="212.2" r="2.6" fill="#808000"/>
<circle cx="362.7" cy="214.6" r="2.6" fill="#808000"/>
<circle cx="364.2" cy="217.5" r="2.6" fill="#808000"/>
<circle cx="366.2" cy="220.1" r="2.6" fill="#808000"/>
<circle cx="367.3" cy="223.4" r="2.6" fill="#808000"/>
<circle cx="369" cy="225.5" r="2.6" fill="#808000"/>
<circle cx="370.6" cy="228.7" r="2.6" fill="#808000"/>
<circle cx="372.7" cy="231.7" r="2.6" fill="#808000"/>
<circle cx="374.9" cy="234.2" r="2.6" fill="#808000"/>
<circle cx="376.2" cy="236.2" r="2.6" fill="#808000"/>
<polyline points="262,13.7 263,13.7 264.5,13.7 266.2,13.7 268,13.7 269.5,13.7 271.3,13.6 273,13.5 274.7,13.5 276,13.7 277.9,14.9 279.2,16.5 280.4,18.1 281.7,20 282.6,21.1 283.5,22.4 284.5,23.7 285.4,25 286.4,26.5 287.3,28 288.4,30 289,31.2 289.6,32.5 290.3,33.9 290.9,35.5 291.6,37 292.2,38.5 292.8,40 293.3,41.5 293.7,42.8 294.1,44.1 294.5,45.6 295.1,47.5 296,50 296.4,51.1 296.9,52.3 297.3,53.5 297.8,54.9 298.4,56.3 299,57.7 299.5,59.2 300.1,60.8 300.8,62.4 301.4,64 302,65.6 302.7,67.2 303.3,68.8 304,70.4 304.6,72 305.3,73.5 305.9,75 306.5,76.4 307.1,77.8 307.7,79.2 308.2,80.6 308.8,81.9 309.4,83.3 310,84.7 310.6,86.1 311.3,87.5 311.9,88.9 312.5,90.3 313.1,91.7 313.7,93.1 314.4,94.4 315,95.8 315.7,97.2 316.3,98.6 317,100 317.7,101.4 318.4,102.8 319,104.2 319.7,105.6 320.4,106.9 321.1,108.3 321.9,109.7 322.6,111.1 323.3,112.5 324,113.9 324.8,115.3 325.5,116.7 326.2,118.1 327,119.4 327.6,120.8 328.4,122.2 329.2,123.4 330,124.8 330.8,126.4 331.5,127.5 332.3,129.1 333.2,130.4 334,132.2 334.8,133.5 335.4,135 336.4,136.5 337.3,137.6 338.1,139.3 338.7,140.5 339.7,141.8 340.5,143.1 341.2,144.4 341.8,145.9 342.4,146.8 343.1,147.9 343.6,148.9 344.2,150.2 345.6,152.4 346.4,154 347.2,155.3 348,156.3 348.7,157.5 349.4,158.8 350.2,160.2 351.2,161.2 352.2,162.4 353.3,163.8 354.1,165.3 355.2,166 356.5,167.2 357.6,168.7 358.6,170.7 359.6,171.6 360.4,172.3 361.3,173.8 362.7,175.3 363.7,177.1 364.5,177.8 365.9,178.8 366.5,180.3 367.4,181.4 368.3,182.6 370.2,184.1 371.7,185.9 372.5,187.5 373.4,187.7" fill="none" stroke="#800080" stroke-width="5.3" stroke-linecap="round" stroke-linejoin="round"/>
<circle cx="373.2" cy="188.2" r="2.6" fill="#800080"/>
<circle cx="375.9" cy="190.4" r="2.6" fill="#800080"/>
<circle cx="377.4" cy="192" r="2.6" fill="#800080"/>
<circle cx="378.9" cy="194.5" r="2.6" fill="#800080"/>
<circle cx="381.4" cy="196.3" r="2.6" fill="#800080"/>
<circle cx="383.3" cy="198.4" r="2.6" fill="#800080"/>
<circle cx="385.6" cy="200.9" r="2.6" fill="#800080"/>
<circle cx="386.8" cy="203" r="2.6" fill="#800080"/>
<circle cx="388.6" cy="204.7" r="2.6" fill="#800080"/>
<circle cx="391.1" cy="206.4" r="2.6" fill="#800080"/>
<circle cx="392.8" cy="208.7" r="2.6" fill="#800080"/>
<circle cx="394.9" cy="210.2" r="2.6" fill="#800080"/>
<circle cx="398.2" cy="211.4" r="2.6" fill="#800080"/>
<circle cx="399.9" cy="213.5" r="2.6" fill="#800080"/>
<circle cx="402.6" cy="215.1" r="2.6" fill="#800080"/>
<circle cx="405.3" cy="216.2" r="2.6" fill="#800080"/>
<polyline points="260.7,13.7 262,13.7 263.8,13.7 265.9,13.7 268,13.7 269.7,13.7 271.5,13.6 273.2,13.5 274.9,13.5 276.2,13.7 278.1,14.9 279.4,16.5 280.7,18.1 282,20 282.9,21.1 283.9,22.4 284.9,23.7 285.8,25 286.8,26.5 287.7,28 288.8,30 289.4,31.2 290.1,32.5 290.8,33.9 291.5,35.5 292.3,37 293,38.5 293.6,40 294.1,41.3 294.5,42.4 294.8,43.5 295.1,44.7 295.5,46 296.1,47.8 297,50 297.4,51 297.9,52.1 298.4,53.3 298.9,54.5 299.4,55.9 300,57.2 300.6,58.6 301.2,60.1 301.9,61.6 302.5,63.1 303.2,64.6 303.8,66.1 304.5,67.6 305.2,69.2 305.8,70.7 306.5,72.1 307.2,73.6 307.8,75 308.4,76.4 309.1,77.8 309.7,79.2 310.3,80.6 310.9,81.9 311.6,83.3 312.2,84.7 312.9,86.1 313.5,87.5 314.2,88.9 314.8,90.3 315.5,91.7 316.2,93.1 316.9,94.4 317.6,95.8 318.3,97.2 319,98.6 319.8,100 320.5,101.3 321.3,102.6 322.1,103.9 322.8,105.3 323.6,106.6 324.5,107.9 325.3,109.2 326.1,110.5 326.9,111.8 327.8,113.2 328.6,114.5 329.5,115.8 330.3,117.1 331.2,118.4 332,119.7 332.8,121 333.8,122.3 334.5,123.6 335.5,125.1 336.1,126.2 337,127.6 338,129 338.8,130.4 339.9,132 340.5,133.6 341.5,134.8 342.6,136.4 343.4,137.6 344.2,139.1 345,140.3 346,141.6 346.8,143.3 347.7,144.4 348.5,145.6 349.1,146.9 349.9,148.1 350.7,149 351.2,150.1 352.5,151.9 353.6,153.8 354.5,155.1 355.4,156.3 356,157.3 356.7,158.5 357.5,159.6 358.7,161.1 359.6,162.2 360.5,163.6 361.6,164.9 362.7,166.8 363.5,168 365,169.1 365.9,171 366.6,171.9 367.6,173.2 369,174 369.9,175.7 371.5,177.1 372.6,178.1 374,178.9 374.9,180.4 375.9,181.2 377.2,182.2 378.1,183.4 379.4,183.6 380.6,184.9 381.6,185.9 383.2,187.2 384.6,188 386,189.6 387.8,190.5 388.5,191.6 389.5,191.7" fill="none" stroke="#008000" stroke-width="5.3" stroke-linecap="round" stroke-linejoin="round"/>
<circle cx="389.2" cy="192.3" r="2.6" fill="#008000"/>
<circle cx="391.8" cy="193.8" r="2.6" fill="#008000"/>
<circle cx="394" cy="195.5" r="2.6" fill="#008000"/>
<circle cx="396" cy="197.4" r="2.6" fill="#008000"/>
<circle cx="398.5" cy="198.8" r="2.6" fill="#008000"/>
<circle cx="401.2" cy="200.5" r="2.6" fill="#008000"/>
<circle cx="403.4" cy="201.8" r="2.6" fill="#008000"/>
<circle cx="405.8" cy="203.2" r="2.6" fill="#008000"/>
<circle cx="408.2" cy="204.9" r="2.6" fill="#008000"/>
<circle cx="410.5" cy="206.5" r="2.6" fill="#008000"/>
<circle cx="412.4" cy="208.2" r="2.6" fill="#008000"/>
<circle cx="414.6" cy="209.9" r="2.6" fill="#008000"/>
<circle cx="416.4" cy="212.1" r="2.6" fill="#008000"/>
<polyline points="265.4,13.7 266.7,13.7 269,13.7 270.7,13.6 272.7,13.5 274.7,13.5 276.3,13.7 278.2,14.9 279.6,16.5 280.9,18.1 282.3,20 283.2,21.1 284.2,22.4 285.3,23.7 286.2,25 287.2,26.5 288.1,28 289.2,30 289.8,31.2 290.5,32.5 291.3,33.9 292.1,35.5 292.9,37 293.6,38.5 294.3,40 294.9,41.3 295.3,42.4 295.7,43.5 296.1,44.7 296.6,46 297.3,47.8 298.2,50 298.6,51 299.1,52.1 299.6,53.3 300.2,54.5 300.8,55.9 301.4,57.2 302,58.6 302.6,60.1 303.3,61.6 304,63.1 304.7,64.6 305.4,66.1 306.1,67.6 306.8,69.2 307.5,70.7 308.2,72.1 308.9,73.6 309.6,75 310.3,76.4 311,77.8 311.7,79.2 312.4,80.6 313.1,81.9 313.8,83.3 314.5,84.7 315.2,86.1 315.9,87.5 316.7,88.9 317.4,90.3 318.2,91.7 318.9,93.1 319.7,94.4 320.5,95.8 321.3,97.2 322.2,98.6 323,100 323.8,101.2 324.6,102.5 325.4,103.8 326.2,105 327,106.2 327.8,107.5 328.6,108.8 329.5,110 330.4,111.2 331.2,112.5 332.1,113.8 333,115 333.9,116.2 334.8,117.5 335.7,118.8 336.6,120 337.4,121.4 338.4,122.6 339.3,123.6 340.5,124.9 341.4,126.1 342.2,127.6 343.4,128.8 344.4,129.8 345.5,131.4 346.5,132.7 347.5,134.1 348.7,135 349.7,136.5 351,137.6 351.9,139.1 353,140.5 354.1,141.4 355.2,142.8 356.2,144 357.1,145.2 358.1,146.2 359.1,147.2 359.9,148.3 360.9,149.2 361.5,149.9 362.9,152 364.4,153.4 365.4,154.5 366.5,155.7 367.2,156.4 368,157.5 368.9,158.3 369.9,159.4 371.1,160.2 371.9,161.2 373.2,162.4 374.4,163.6 375.4,164.7 377,165.9 378.1,166.5 379.5,168 380.6,169.2 381.5,169.4 382.7,170.9 383.5,171.7 385.6,172.6 386.8,174.1 388,174.7 389.1,176.1 390.8,176.7 391.7,178 393.5,178.4 394.7,179.9 396.3,180.4 397.5,181.4 398.7,181.9 400.1,183.2 401.5,183.9 403,184.7 404.3,185 406.2,186 407,187 408.8,187.2 410.1,188.1 411.7,188.6 413.2,190.3 415.4,190.7 416.7,191.2 417.9,191.8" fill="none" stroke="#8000ff" stroke-width="5.3" stroke-linecap="round" stroke-linejoin="round"/>
<polyline points="269.7,13.7 270.6,13.7 272,13.7 273.4,13.6 275,13.5 276.5,13.7 278.3,14.9 279.8,16.5 281.2,18.1 282.6,20 283.5,21.1 284.6,22.4 285.6,23.7 286.6,25 287.6,26.5 288.5,28 289.6,30 290.3,31.2 291,32.5 291.8,33.9 292.6,35.5 293.5,37 294.3,38.5 295,40 295.6,41.3 296.1,42.4 296.5,43.5 297,44.7 297.5,46 298.3,47.8 299.3,50 299.8,51 300.3,52.1 300.9,53.3 301.5,54.5 302.1,55.9 302.7,57.2 303.4,58.6 304.1,60.1 304.8,61.6 305.5,63.1 306.3,64.6 307,66.1 307.8,67.6 308.6,69.2 309.3,70.7 310.1,72.1 310.8,73.6 311.6,75 312.3,76.3 313,77.6 313.7,78.9 314.4,80.3 315.1,81.6 315.8,82.9 316.6,84.2 317.3,85.5 318,86.8 318.8,88.2 319.5,89.5 320.3,90.8 321.1,92.1 321.9,93.4 322.7,94.7 323.6,96.1 324.4,97.4 325.3,98.7 326.2,100 327,101.2 327.9,102.4 328.8,103.6 329.7,104.8 330.6,106 331.5,107.1 332.5,108.3 333.4,109.5 334.4,110.7 335.4,111.9 336.4,113.1 337.4,114.3 338.4,115.5 339.4,116.7 340.4,117.9 341.4,119 342.4,120.2 343.3,121.5 344.5,122.8 345.4,123.9 346.4,125.1 347.3,126.4 348.5,127.4 349.5,128.7 350.5,129.8 351.7,131.2 352.5,132.4 353.6,134 354.7,135 355.9,136.4 356.8,137.8 358,139.1 359.1,140.1 360.2,141.6 361,142.6 362.1,143.9 363,144.9 364,146 365,147.3 365.8,148.2 366.8,149 367.6,150.2 369,151.6 370.5,153 371.6,154.4 372.9,155.2 373.8,156.1 374.9,157.2 376,158 377.1,158.8 378,159.5 379.4,160.7 380.4,161.4 381.7,162.4 383,163.2 384.3,164.4 385.3,165 387.2,166.6 388.4,167.4 389.6,168.5 390.8,168.6 391.7,169.6 392.7,170.3 394.5,172.2 396.1,172.7 397.4,173.7 398.9,174.4 399.9,175.6 401.2,176.5 403.2,177.3 404.1,178.1 405.7,178.6 406.8,179.4 408.4,180.5 409.9,181.3 411.2,182.4 413.2,183.3 414.8,184.3 416.4,185.3 418.2,186 419.5,186.5" fill="none" stroke="#ff8000" stroke-width="5.3" stroke-linecap="round" stroke-linejoin="round"/>
<circle cx="409.3" cy="225.4" r="2.7" fill="#800080"/>
<circle cx="411.4" cy="222.9" r="2.7" fill="#800080"/>
<circle cx="415.3" cy="221.6" r="2.7" fill="#800080"/>
<circle cx="413.1" cy="225.4" r="2.7" fill="#800080"/>
<circle cx="410.1" cy="227.6" r="2.7" fill="#800080"/>
<circle cx="418.3" cy="226.3" r="2.7" fill="#800080"/>
<circle cx="417.4" cy="229.8" r="2.7" fill="#800080"/>
<circle cx="415.7" cy="228" r="2.7" fill="#800080"/>
<circle cx="381.3" cy="181.3" r="2.7" fill="#008000"/>
<circle cx="363.8" cy="212.8" r="2.7" fill="#808000"/>
</g>
<g clip-path="url(#cpc)">
<polyline points="452.3,13.7 453.4,13.7 454.9,13.7 456.7,13.8 458.4,13.8 460,13.9 461.7,14 463.2,14.2 464.7,14.4 466,14.6 468.1,15 470,15.3 471.6,15 473.2,14.6 474.5,14.5 475.5,15.2 476,16.5 476.5,18.2 476.9,20 477.2,21.2 477.5,22" fill="none" stroke="#ff0000" stroke-width="5" stroke-linecap="round" stroke-linejoin="round"/>
<circle cx="477.4" cy="22" r="2.5" fill="#ff0000"/>
<circle cx="478.3" cy="25.4" r="2.5" fill="#ff0000"/>
<circle cx="479" cy="28.8" r="2.5" fill="#ff0000"/>
<circle cx="479.4" cy="32.2" r="2.5" fill="#ff0000"/>
<circle cx="480.3" cy="35.5" r="2.5" fill="#ff0000"/>
<circle cx="480.8" cy="39" r="2.5" fill="#ff0000"/>
<circle cx="481.2" cy="42.4" r="2.5" fill="#ff0000"/>
<circle cx="481.8" cy="45.6" r="2.5" fill="#ff0000"/>
<circle cx="482.2" cy="48.7" r="2.5" fill="#ff0000"/>
<circle cx="482.7" cy="52.4" r="2.5" fill="#ff0000"/>
<circle cx="482.9" cy="55.7" r="2.5" fill="#ff0000"/>
<circle cx="483.4" cy="59.3" r="2.5" fill="#ff0000"/>
<circle cx="483.8" cy="62.4" r="2.5" fill="#ff0000"/>
<circle cx="484.6" cy="66" r="2.5" fill="#ff0000"/>
<circle cx="484.9" cy="69.2" r="2.5" fill="#ff0000"/>
<circle cx="485.7" cy="72.8" r="2.5" fill="#ff0000"/>
<circle cx="486.3" cy="76.1" r="2.5" fill="#ff0000"/>
<circle cx="487" cy="79.5" r="2.5" fill="#ff0000"/>
<circle cx="487.5" cy="82.9" r="2.5" fill="#ff0000"/>
<circle cx="488.1" cy="86.2" r="2.5" fill="#ff0000"/>
<circle cx="488.7" cy="89.7" r="2.5" fill="#ff0000"/>
<circle cx="489.3" cy="93" r="2.5" fill="#ff0000"/>
<circle cx="489.9" cy="96.3" r="2.5" fill="#ff0000"/>
<circle cx="490.6" cy="99.8" r="2.5" fill="#ff0000"/>
<circle cx="491.4" cy="103.2" r="2.5" fill="#ff0000"/>
<circle cx="492.5" cy="106.4" r="2.5" fill="#ff0000"/>
<circle cx="493.6" cy="109.9" r="2.5" fill="#ff0000"/>
<circle cx="494.6" cy="113" r="2.5" fill="#ff0000"/>
<circle cx="495.6" cy="116.2" r="2.5" fill="#ff0000"/>
<circle cx="496.7" cy="119.4" r="2.5" fill="#ff0000"/>
<circle cx="497.7" cy="122.8" r="2.5" fill="#ff0000"/>
<circle cx="498.8" cy="126" r="2.5" fill="#ff0000"/>
<circle cx="500.1" cy="129.3" r="2.5" fill="#ff0000"/>
<circle cx="501.2" cy="132.4" r="2.5" fill="#ff0000"/>
<circle cx="502.3" cy="135.4" r="2.5" fill="#ff0000"/>
<circle cx="503.7" cy="138.7" r="2.5" fill="#ff0000"/>
<circle cx="505" cy="141.8" r="2.5" fill="#ff0000"/>
<circle cx="506.1" cy="145.2" r="2.5" fill="#ff0000"/>
<circle cx="507.2" cy="148.7" r="2.5" fill="#ff0000"/>
<circle cx="508.5" cy="151.7" r="2.5" fill="#ff0000"/>
<circle cx="510" cy="154.9" r="2.5" fill="#ff0000"/>
<circle cx="511.2" cy="157.9" r="2.5" fill="#ff0000"/>
<circle cx="512.5" cy="161.2" r="2.5" fill="#ff0000"/>
<circle cx="513.7" cy="164.6" r="2.5" fill="#ff0000"/>
<circle cx="514.6" cy="168" r="2.5" fill="#ff0000"/>
<circle cx="515.5" cy="171.2" r="2.5" fill="#ff0000"/>
<circle cx="516.5" cy="174.4" r="2.5" fill="#ff0000"/>
<polyline points="452.3,13.7 453.3,13.7 454.8,13.8 456.5,13.8 458.3,13.8 460,13.9 461.6,14 463.2,14.1 464.8,14.2 466.3,14.3 467.8,14.4 469.6,14.3 471.5,14.1 473.1,14 474.5,14.1 476.3,14.9 477.5,16.5 478.2,17.6 478.8,18.9 479.4,20.4 480,22 480.5,23.4 480.9,24.8 481.3,26.4 481.8,27.9 482.6,29.6 483.2,30.8 483.8,32.7 484.5,34.4 485.5,36.3 486.3,37.4 486.8,38.6 488,39.9 488.4,41.3 489.5,43.1 490.3,44.4 490.8,45.1 492,46.9 492.8,48.5 493.3,49.9 494.1,51.8 495.2,52.9 496.1,54.4 496.9,56.2 498.2,57.7 499.1,58.9 499.9,59.7 501.2,61.9 501.7,63.4 503.2,64.5 504.2,66 505.4,67.2 506.8,68 508.5,69.1 509.6,70.8 510.9,71.9 511.9,72.5 513.2,73.6 514.7,74.8 515.8,75.7 517,76.8 518.3,77.4 519.5,78.8 521,79.2 522.4,80 523.9,80.7 525.4,81.6 526.7,82.6 528.2,83.1 530.1,83.7 531.3,85.2 532.9,84.8 533.6,86.1 534.9,86.8 536.7,87.6 537.9,87.1 539.1,87.6 540.7,88.5 542.3,89.7 543.4,90 545.2,90.8 547,91.5 548.1,92.9 549.3,93.9 550.5,94.4 551.7,94.4 553.5,95.4 554.6,97.3 555.9,97.5 557.1,97.9 559,98.5 560.6,98.5 562.3,99.4 563.6,100.8 565.2,101.1 567,102.4 568.2,103.4 568.9,103.5 570.4,104.9 573,105.4 573.9,106.3 575.4,106.2 577,106.9 578.2,107.2 579.2,108.7 581.4,109 582.3,108.6 584.1,109.4 585.8,110.1 587.2,110.5 589.3,110.8 591,111.8 592.4,111.8 593.6,112.8 595,112.2 597,113.7 598,113 600,114.2 600.7,114 602.3,115.1 603.9,115.6 605.9,114.8 607.3,115.5 608.8,116.4 609.9,115.8 612.1,116.5 613.6,117.2 615,117.7 616.5,117.5 617.5,118.1 619.4,118.2 621.4,117.9 622.7,118.1 624,119.4 624.9,119.3 626.8,119.7 628.5,119.6 630,120.2 632.1,120.4 633.7,120.7 635.5,121.7 636.3,121.4 637.5,121.9" fill="none" stroke="#808000" stroke-width="5.4" stroke-linecap="round" stroke-linejoin="round"/>
<polyline points="452.3,13.7 453.3,13.7 454.8,13.8 456.5,13.8 458.3,13.8 460,13.9 461.6,14 463.2,14.1 464.8,14.2 466.3,14.3 467.8,14.4 469.6,14.3 471.4,14.2 473.1,14 474.5,14.1 476.4,14.7 478,16 479,17.2 479.9,18.7 481,20.3 482,21.8 482.9,23.1 483.8,24.7 484.6,26.2 485.5,27.3 486.4,28.8 487.1,30.3 488.3,31.3 489,32.8 490.1,34.3 490.9,35.5 492.1,36.8 492.9,37.8 494.2,39.2 495.2,40.7 496.5,42.3 497.7,43.2 498.9,44.8 500.1,46 500.9,47 501.8,48.2 503.2,49.4 504.2,49.9 505.4,50.8 506.6,52.1 507.9,52.6 509.5,53.7 511.1,54.6 512.6,56 513.9,56.6 514.8,57.5 515.8,58 517,58.7 518.8,59.5 519.8,59.6 520.8,60.4 522.3,61 523.6,61.7 525.3,62.7 527.2,63.8 528.7,64.6 530.4,65.3 531.7,65.5 532.8,66.6 533.6,67.1 535.7,67.9 537.1,68.4 538,69.4 539.1,69.2 541,70.1 542.3,70.9 544.2,71.5 546,72.1 547.7,72.6 549,73 550.8,73.8 551.4,74.5 553.1,74.7 554.9,75.6 555.9,76.2 557.1,76.6 558.5,77.1 560.5,77.2 562.1,77.7 563.8,79 565.5,79.4 567.2,79.3 568.7,80.3 569.1,80.7 570.8,80.7 573.1,81.9 574,81.8 575.1,82.1 576.1,82.9 577.4,83.6 579,83.8 581,84.5 582.8,85.2 584.4,85.7 586.1,86.5 587.3,86.9 589.1,87.4 590.8,87.9 592,87.9 593.8,88.8 595.3,88.3 596.7,88.7 598.2,89.6 599.4,90.1 601.3,89.8 602.4,90.2 604.3,90.6 605.4,90.4 606.9,91.4 608.4,91.4 610,91.8 611.5,91.6 613.4,92.2 614.8,92.7 616.4,92.2 617.6,92.5 619.2,93.4 620.8,92.9 621.9,93.8 623.7,93.6 625,93.7 626.6,94.1 628.3,94.6 629.6,94.7 631.5,95.6 633.5,95.2 635,95.8 636.8,96.3 638.2,96.5 639.3,96.9 640.7,96.7 641.7,97.7" fill="none" stroke="#800080" stroke-width="5.4" stroke-linecap="round" stroke-linejoin="round"/>
<polyline points="452.3,13.7 453.3,13.7 454.8,13.8 456.5,13.8 458.3,13.8 460,13.9 461.6,14 463.2,14.1 464.8,14.2 466.3,14.3 467.8,14.4 469.6,14.3 471.4,14.2 473,14.1 474.5,14.1 476.6,14.6 478.5,15.8 479.5,16.7 480.5,17.7 481.6,18.9 482.7,20 483.8,21.7 485,22.5 486.1,23.4 487,24.4 488.2,25.6 489.6,26.9 490.8,27.9 491.9,29 492.8,29.9 494.1,31.3 495.2,32.2 496.3,33.2 497.4,34 498.9,34.9 499.9,35.8 501,36.8 502.4,37.7 503.4,38.6 504.7,39.9 505.9,40.4 507.2,41.7 508.4,42.2 509.8,43.5 511,44 512.4,45.1 514.2,46.1 515.7,46.8 517,47.9 518.6,48.5 520,49.3 520.9,50 522.9,51.1 524.6,51.8 526.2,52.3 527.6,52.9 529.4,53.8 531.2,54 532.5,55.1 533.6,55 535,55.4 537.2,55.9 538.3,56.7 539.6,57.5 541.1,58.2 542.7,58.7 544.3,59.2 545.6,60.2 547.4,60.4 549,61.5 550.3,61.2 551.6,62.2 552.9,62 554.9,63.4 556.5,63.7 558.4,64.1 560.1,64.6 561.5,65.3 563.1,66.2 565.2,66.6 567,67.5 567.9,67.9 569.5,69.2 570.4,69.1 573,70.2 574.2,70.8 575.3,71 576.9,71.6 578.2,72.6 579.8,73 581.5,73.4 583.4,74.1 584.7,74.3 586.2,75.1 587.6,75.1 588.6,75.2 590.6,75.7 591.5,75.7 593,76.4 594,77 595.4,76.9 596.9,77.4 599,77.2 600.6,78.1 602,78 603.8,78.8 605.2,78.9 607.1,79.1 608.6,79.7 609.9,80 611.5,80.3 613.3,80 614.9,81 616,80.5 617.4,81.6 618.9,81.9 620.4,82 621.9,81.8 623.7,82 624.9,83 626.5,83.2 628.4,82.8 629.7,83.8 631.8,83.4 633.4,83.9 635.1,84.1 636.5,85.2 638.2,85.4 639.4,85.2 640.6,85.4 641.5,85.8" fill="none" stroke="#008000" stroke-width="5.4" stroke-linecap="round" stroke-linejoin="round"/>
<polyline points="452.3,13.7 453.3,13.7 454.8,13.8 456.5,13.8 458.3,13.8 460,13.9 461.6,14 463.2,14.1 464.8,14.2 466.3,14.3 467.8,14.4 469.6,14.3 471.4,14.2 473,14.1 474.5,14.1 476.1,14.4 477.4,14.9 479,15.7 480.1,16.4 481.4,17.3 482.7,18.5 484,19.4 485.6,20.4 486.6,21.2 488.1,22.5 489.4,23.1 490.6,24.2 491.9,25.3 493.1,26.5 494.3,27.3 496.1,28.2 497.6,29.4 499,30.2 500.6,31 502.1,31.8 503.4,32.8 505,33.5 506.4,34.4 507.6,35.2 509,36 510.6,36.7 511.9,37.2 513.1,37.7 514.6,38.6 515.8,39.3 517.4,39.8 518.6,40.8 520,41.3 521.5,42 523,42.2 524.3,43.2 525.9,43.4 527,44.1 528.4,44.8 530,45.7 531.1,46 532.2,47.6 533.6,47.9 535,49.1 537.2,49.3 538.3,49.9 539.5,50.2 540.7,50.7 542.2,50.9 543.6,51.8 545.1,51.9 547.1,52.5 548.5,52.9 550.4,53.2 551.9,54.3 553.2,54.3 555.1,54.9 556.3,54.8 557.8,55.5 559.5,55.8 560.8,56.5 562.6,56.6 563.8,57.2 565.6,57.2 567.1,58 568.2,58.3 569.7,58.2 571.5,58.8 572.8,59.3 574.5,59.9 575.5,60.2 577.3,60.4 579,60.8 580.2,61.6 581.7,61.6 583.2,62.3 584.8,62.6 586.2,62.4 587.8,63.2 589.4,63.7 590.5,63.5 591.9,64.4 593.4,64 595.3,64.7 596.4,65.1 598.3,65.2 599.4,65.6 601.1,65.7 603,66.2 604.4,65.8 605.5,66.4 606.8,67 608.5,66.6 610,66.8 611.8,67.3 613.1,67.4 614.4,67.6 616.4,68.2 617.9,68 619,68 620.7,68.5 622.1,68.9 623.6,69 625.2,69 626.7,69.6 627.8,69.6 629.9,69.9 631.7,70.1 633.3,70.8 635,71 637,71.1 638.3,71.7 639.6,71.8 640.5,71.6 641.8,71.4" fill="none" stroke="#ff0080" stroke-width="5.4" stroke-linecap="round" stroke-linejoin="round"/>
<polyline points="452.3,13.7 453.3,13.7 454.8,13.8 456.5,13.8 458.3,13.8 460,13.9 461.6,14 463.2,14.1 464.8,14.2 466.3,14.3 467.8,14.4 469.6,14.3 471.3,14.2 473,14.1 474.5,14.1 476.3,14.3 477.8,14.6 479.5,15.2 480.9,15.9 482.4,16.6 484,18 485.6,18.8 486.7,19.9 487.8,20.7 489.1,21.6 490.6,22.5 491.9,23.4 493.3,24.3 494.6,25.6 495.9,26.3 497,27 498.5,27.9 499.9,28.6 501,29.7 502.3,30.3 503.3,30.8 504.9,32.1 506.5,32.5 507.9,33.1 509.2,34.3 510.5,35 511.9,35.2 513.1,36.1 514.4,36.9 515.7,37.6 517.2,37.9 518.7,38.6 520.3,39.6 521.9,40 523.4,40.7 525.1,41.3 526.8,41.9 528.4,42.4 530,43 531.2,44.3 532.7,44.9 534.4,45.3 535.3,45.6 537.2,46.3 538.5,47.2 539.9,47.7 541.5,48.3 543.3,48.6 544.7,49.1 546.2,49.3 548,50.4 549.8,50.8 551.2,51.3 553.1,51.5 554.9,51.9 556.3,52.3 557.8,52.3 559.3,52.9 561.2,53.2 563,53.4 564.3,54 566,54.8 567.4,54.5 568.6,55.3 570.8,55.1 572.9,56.2 574.2,56.1 575.4,56.5 576.9,56.4 578.3,57.1 579.5,57.1 581,58 582.9,57.8 584.3,58.1 585.8,58.5 587.5,59.5 589.5,59.7 590.7,59.7 592.4,60.3 593.8,60.3 595,60.6 596.9,60.9 597.9,61.1 599.6,60.8 601.4,61.5 602.8,61.2 604.3,62.1 605.9,62.2 607.3,62.5 608.7,62.3 610.4,62.9 612.1,62.7 613.8,63.2 615.5,63 617.1,63.9 618.3,64.2 619.9,63.8 621.7,64.1 623.3,64.9 625,65 626.3,65.3 628.3,65.4 630.1,65.8 631.6,65.4 633.5,66.3 635.1,66.3 637,66.8 638,66.7 639.4,66.6 641,67 641.8,67.2" fill="none" stroke="#0000ff" stroke-width="5.4" stroke-linecap="round" stroke-linejoin="round"/>
<circle cx="517.6" cy="182.5" r="2.4" fill="#ff0000"/>
<circle cx="519" cy="184.3" r="2.4" fill="#ff0000"/>
<circle cx="519.6" cy="186.2" r="2.4" fill="#ff0000"/>
<circle cx="520.3" cy="187.9" r="2.4" fill="#ff0000"/>
<circle cx="520.8" cy="191.5" r="2.4" fill="#ff0000"/>
<circle cx="520.6" cy="189.6" r="2.4" fill="#ff0000"/>
<circle cx="522" cy="197.4" r="2.4" fill="#ff0000"/>
<circle cx="524.4" cy="198.3" r="2.4" fill="#ff0000"/>
<circle cx="523.3" cy="200.4" r="2.4" fill="#ff0000"/>
<circle cx="525.6" cy="205.8" r="2.4" fill="#ff0000"/>
<circle cx="526.9" cy="207.2" r="2.4" fill="#ff0000"/>
<circle cx="527.9" cy="212.9" r="2.4" fill="#ff0000"/>
<circle cx="611.8" cy="114" r="2.7" fill="#808000"/>
<circle cx="641.2" cy="126.6" r="2.7" fill="#808000"/>
</g>
<rect x="55.3" y="2.6" width="189.2" height="233.7" fill="none" stroke="#000" stroke-width="1.15"/>
<rect x="253.3" y="2.6" width="189.6" height="233.7" fill="none" stroke="#000" stroke-width="1.15"/>
<rect x="452.3" y="2.6" width="189.4" height="233.7" fill="none" stroke="#000" stroke-width="1.15"/>
<path transform="translate(27.65,19.65) scale(0.00781,-0.00781)" d="M763 0H583V1147Q518 1085 412.5 1023Q307 961 223 930V1104Q374 1175 487 1276Q600 1377 647 1472H763Z"/>
<text x="36.54" y="19.65" font-size="16">0</text>
<text x="44.84" y="11.65" font-size="10">0</text>
<path transform="translate(24.32,56.75) scale(0.00781,-0.00781)" d="M763 0H583V1147Q518 1085 412.5 1023Q307 961 223 930V1104Q374 1175 487 1276Q600 1377 647 1472H763Z"/>
<text x="33.21" y="56.75" font-size="16">0</text>
<text x="41.51" y="48.75" font-size="10">-</text>
<path transform="translate(44.84,48.75) scale(0.00488,-0.00488)" d="M763 0H583V1147Q518 1085 412.5 1023Q307 961 223 930V1104Q374 1175 487 1276Q600 1377 647 1472H763Z"/>
<path transform="translate(24.32,93.85) scale(0.00781,-0.00781)" d="M763 0H583V1147Q518 1085 412.5 1023Q307 961 223 930V1104Q374 1175 487 1276Q600 1377 647 1472H763Z"/>
<text x="33.21" y="93.85" font-size="16">0</text>
<text x="41.51" y="85.85" font-size="10">-2</text>
<path transform="translate(24.32,130.95) scale(0.00781,-0.00781)" d="M763 0H583V1147Q518 1085 412.5 1023Q307 961 223 930V1104Q374 1175 487 1276Q600 1377 647 1472H763Z"/>
<text x="33.21" y="130.95" font-size="16">0</text>
<text x="41.51" y="122.95" font-size="10">-3</text>
<path transform="translate(24.32,168.05) scale(0.00781,-0.00781)" d="M763 0H583V1147Q518 1085 412.5 1023Q307 961 223 930V1104Q374 1175 487 1276Q600 1377 647 1472H763Z"/>
<text x="33.21" y="168.05" font-size="16">0</text>
<text x="41.51" y="160.05" font-size="10">-4</text>
<path transform="translate(24.32,205.15) scale(0.00781,-0.00781)" d="M763 0H583V1147Q518 1085 412.5 1023Q307 961 223 930V1104Q374 1175 487 1276Q600 1377 647 1472H763Z"/>
<text x="33.21" y="205.15" font-size="16">0</text>
<text x="41.51" y="197.15" font-size="10">-5</text>
<path transform="translate(24.32,242.25) scale(0.00781,-0.00781)" d="M763 0H583V1147Q518 1085 412.5 1023Q307 961 223 930V1104Q374 1175 487 1276Q600 1377 647 1472H763Z"/>
<text x="33.21" y="242.25" font-size="16">0</text>
<text x="41.51" y="234.25" font-size="10">-6</text>
<path transform="translate(119.7,275.4) scale(0.00912,-0.00912)" d="M763 0H583V1147Q518 1085 412.5 1023Q307 961 223 930V1104Q374 1175 487 1276Q600 1377 647 1472H763Z"/>
<text x="130.08" y="275.4" font-size="18.67">/T (K</text>
<text x="170.84" y="265.3" font-size="10.8">-</text>
<path transform="translate(174.43,265.3) scale(0.00527,-0.00527)" d="M763 0H583V1147Q518 1085 412.5 1023Q307 961 223 930V1104Q374 1175 487 1276Q600 1377 647 1472H763Z"/>
<text x="181.04" y="275.4" font-size="18.67">)</text>
<path transform="translate(321.4,273.9) scale(0.00912,-0.00912)" d="M763 0H583V1147Q518 1085 412.5 1023Q307 961 223 930V1104Q374 1175 487 1276Q600 1377 647 1472H763Z"/>
<text x="331.78" y="273.9" font-size="18.67">/T (K</text>
<text x="372.54" y="263.8" font-size="10.8">-</text>
<path transform="translate(376.13,263.8) scale(0.00527,-0.00527)" d="M763 0H583V1147Q518 1085 412.5 1023Q307 961 223 930V1104Q374 1175 487 1276Q600 1377 647 1472H763Z"/>
<text x="382.74" y="273.9" font-size="18.67">)</text>
<path transform="translate(523.4,275.4) scale(0.00912,-0.00912)" d="M763 0H583V1147Q518 1085 412.5 1023Q307 961 223 930V1104Q374 1175 487 1276Q600 1377 647 1472H763Z"/>
<text x="533.78" y="275.4" font-size="18.67">/T (K</text>
<text x="574.54" y="265.3" font-size="10.8">-</text>
<path transform="translate(578.13,265.3) scale(0.00527,-0.00527)" d="M763 0H583V1147Q518 1085 412.5 1023Q307 961 223 930V1104Q374 1175 487 1276Q600 1377 647 1472H763Z"/>
<text x="584.74" y="275.4" font-size="18.67">)</text>
<text transform="translate(15.6,139.7) rotate(-90)" font-size="20" letter-spacing="0.3">R/R<tspan font-size="11" dy="7.2">n</tspan></text>
<text x="119" y="38.3" font-size="18" font-weight="bold">(a)</text>
<text x="319" y="38.3" font-size="18" font-weight="bold">(b)</text>
<text transform="translate(557.9,31.8) scale(0.89,1)" font-size="18" font-weight="bold">(c)</text>
<rect x="140.4" y="42.5" width="55.4" height="126.1" fill="#fff" stroke="#444" stroke-width="0.9"/>
<path d="M143.3 53H151.1M159.7 53H167.7" stroke="#555" stroke-width="0.8"/>
<circle cx="155.4" cy="53" r="2.7" fill="#ff0000"/>
<text x="170.7" y="56.8" font-size="10.5" font-weight="bold">0</text>
<path d="M143.3 66.7H151.1M159.7 66.7H167.7" stroke="#555" stroke-width="0.8"/>
<circle cx="155.4" cy="66.7" r="2.7" fill="#0000ff"/>
<text x="170.7" y="70.45" font-size="10.5" font-weight="bold">50</text>
<path d="M143.3 80.3H151.1M159.7 80.3H167.7" stroke="#555" stroke-width="0.8"/>
<circle cx="155.4" cy="80.3" r="2.7" fill="#ff00ff"/>
<path transform="translate(170.7,84.1) scale(0.00513,-0.00513)" d="M806 0H525V1059Q371 915 162 846V1101Q272 1137 401 1237.5Q530 1338 578 1472H806Z"/>
<text x="176.54" y="84.1" font-size="10.5" font-weight="bold">00</text>
<path d="M143.3 94H151.1M159.7 94H167.7" stroke="#555" stroke-width="0.8"/>
<circle cx="155.4" cy="94" r="2.7" fill="#808000"/>
<text x="170.7" y="97.75" font-size="10.5" font-weight="bold">300</text>
<path d="M143.3 107.6H151.1M159.7 107.6H167.7" stroke="#555" stroke-width="0.8"/>
<circle cx="155.4" cy="107.6" r="2.7" fill="#800080"/>
<text x="170.7" y="111.4" font-size="10.5" font-weight="bold">500</text>
<path d="M143.3 121.2H151.1M159.7 121.2H167.7" stroke="#555" stroke-width="0.8"/>
<circle cx="155.4" cy="121.2" r="2.7" fill="#008000"/>
<text x="170.7" y="125.05" font-size="10.5" font-weight="bold">700</text>
<path d="M143.3 134.9H151.1M159.7 134.9H167.7" stroke="#555" stroke-width="0.8"/>
<circle cx="155.4" cy="134.9" r="2.7" fill="#8000ff"/>
<path transform="translate(170.7,138.7) scale(0.00513,-0.00513)" d="M806 0H525V1059Q371 915 162 846V1101Q272 1137 401 1237.5Q530 1338 578 1472H806Z"/>
<text x="176.54" y="138.7" font-size="10.5" font-weight="bold">000</text>
<path d="M143.3 148.6H151.1M159.7 148.6H167.7" stroke="#555" stroke-width="0.8"/>
<circle cx="155.4" cy="148.6" r="2.7" fill="#ff0080"/>
<path transform="translate(170.7,152.35) scale(0.00513,-0.00513)" d="M806 0H525V1059Q371 915 162 846V1101Q272 1137 401 1237.5Q530 1338 578 1472H806Z"/>
<text x="176.54" y="152.35" font-size="10.5" font-weight="bold">200</text>
<path d="M143.3 162.2H151.1M159.7 162.2H167.7" stroke="#555" stroke-width="0.8"/>
<circle cx="155.4" cy="162.2" r="2.7" fill="#ff8000"/>
<path transform="translate(170.7,166) scale(0.00513,-0.00513)" d="M806 0H525V1059Q371 915 162 846V1101Q272 1137 401 1237.5Q530 1338 578 1472H806Z"/>
<text x="176.54" y="166" font-size="10.5" font-weight="bold">500</text>
<rect x="358.6" y="20.6" width="53" height="95.9" fill="#fff" stroke="#444" stroke-width="0.9"/>
<path d="M360.4 28.2H368.2M376.8 28.2H384.8" stroke="#555" stroke-width="0.8"/>
<circle cx="372.5" cy="28.2" r="2.7" fill="#ff0000"/>
<text x="387.8" y="32" font-size="10.5" font-weight="bold">0</text>
<path d="M360.4 41.9H368.2M376.8 41.9H384.8" stroke="#555" stroke-width="0.8"/>
<circle cx="372.5" cy="41.9" r="2.7" fill="#ff00ff"/>
<path transform="translate(387.8,45.65) scale(0.00513,-0.00513)" d="M806 0H525V1059Q371 915 162 846V1101Q272 1137 401 1237.5Q530 1338 578 1472H806Z"/>
<text x="393.64" y="45.65" font-size="10.5" font-weight="bold">00</text>
<path d="M360.4 55.5H368.2M376.8 55.5H384.8" stroke="#555" stroke-width="0.8"/>
<circle cx="372.5" cy="55.5" r="2.7" fill="#808000"/>
<text x="387.8" y="59.3" font-size="10.5" font-weight="bold">200</text>
<path d="M360.4 69.2H368.2M376.8 69.2H384.8" stroke="#555" stroke-width="0.8"/>
<circle cx="372.5" cy="69.2" r="2.7" fill="#800080"/>
<text x="387.8" y="72.95" font-size="10.5" font-weight="bold">500</text>
<path d="M360.4 82.8H368.2M376.8 82.8H384.8" stroke="#555" stroke-width="0.8"/>
<circle cx="372.5" cy="82.8" r="2.7" fill="#008000"/>
<text x="387.8" y="86.6" font-size="10.5" font-weight="bold">700</text>
<path d="M360.4 96.5H368.2M376.8 96.5H384.8" stroke="#555" stroke-width="0.8"/>
<circle cx="372.5" cy="96.5" r="2.7" fill="#8000ff"/>
<path transform="translate(387.8,100.25) scale(0.00513,-0.00513)" d="M806 0H525V1059Q371 915 162 846V1101Q272 1137 401 1237.5Q530 1338 578 1472H806Z"/>
<text x="393.64" y="100.25" font-size="10.5" font-weight="bold">000</text>
<path d="M360.4 110.1H368.2M376.8 110.1H384.8" stroke="#555" stroke-width="0.8"/>
<circle cx="372.5" cy="110.1" r="2.7" fill="#ff8000"/>
<path transform="translate(387.8,113.9) scale(0.00513,-0.00513)" d="M806 0H525V1059Q371 915 162 846V1101Q272 1137 401 1237.5Q530 1338 578 1472H806Z"/>
<text x="393.64" y="113.9" font-size="10.5" font-weight="bold">200</text>
<rect x="552.4" y="128" width="53.1" height="82.2" fill="#fff" stroke="#444" stroke-width="0.9"/>
<path d="M554.2 135.6H562M570.6 135.6H578.6" stroke="#555" stroke-width="0.8"/>
<circle cx="566.3" cy="135.6" r="2.7" fill="#ff0000"/>
<text x="581.6" y="139.4" font-size="10.5" font-weight="bold">0</text>
<path d="M554.2 149.2H562M570.6 149.2H578.6" stroke="#555" stroke-width="0.8"/>
<circle cx="566.3" cy="149.2" r="2.7" fill="#808000"/>
<text x="581.6" y="153.05" font-size="10.5" font-weight="bold">50</text>
<path d="M554.2 162.9H562M570.6 162.9H578.6" stroke="#555" stroke-width="0.8"/>
<circle cx="566.3" cy="162.9" r="2.7" fill="#800080"/>
<text x="581.6" y="166.7" font-size="10.5" font-weight="bold">200</text>
<path d="M554.2 176.6H562M570.6 176.6H578.6" stroke="#555" stroke-width="0.8"/>
<circle cx="566.3" cy="176.6" r="2.7" fill="#008000"/>
<text x="581.6" y="180.35" font-size="10.5" font-weight="bold">500</text>
<path d="M554.2 190.2H562M570.6 190.2H578.6" stroke="#555" stroke-width="0.8"/>
<circle cx="566.3" cy="190.2" r="2.7" fill="#ff0080"/>
<path transform="translate(579.2,194) scale(0.00513,-0.00513)" d="M806 0H525V1059Q371 915 162 846V1101Q272 1137 401 1237.5Q530 1338 578 1472H806Z"/>
<text x="585.04" y="194" font-size="10.5" font-weight="bold">000</text>
<path d="M554.2 203.8H562M570.6 203.8H578.6" stroke="#555" stroke-width="0.8"/>
<circle cx="566.3" cy="203.8" r="2.7" fill="#0000ff"/>
<path transform="translate(582.5,207.65) scale(0.00513,-0.00513)" d="M806 0H525V1059Q371 915 162 846V1101Q272 1137 401 1237.5Q530 1338 578 1472H806Z"/>
<text x="588.34" y="207.65" font-size="10.5" font-weight="bold">400</text>
</svg>
</body></html>
